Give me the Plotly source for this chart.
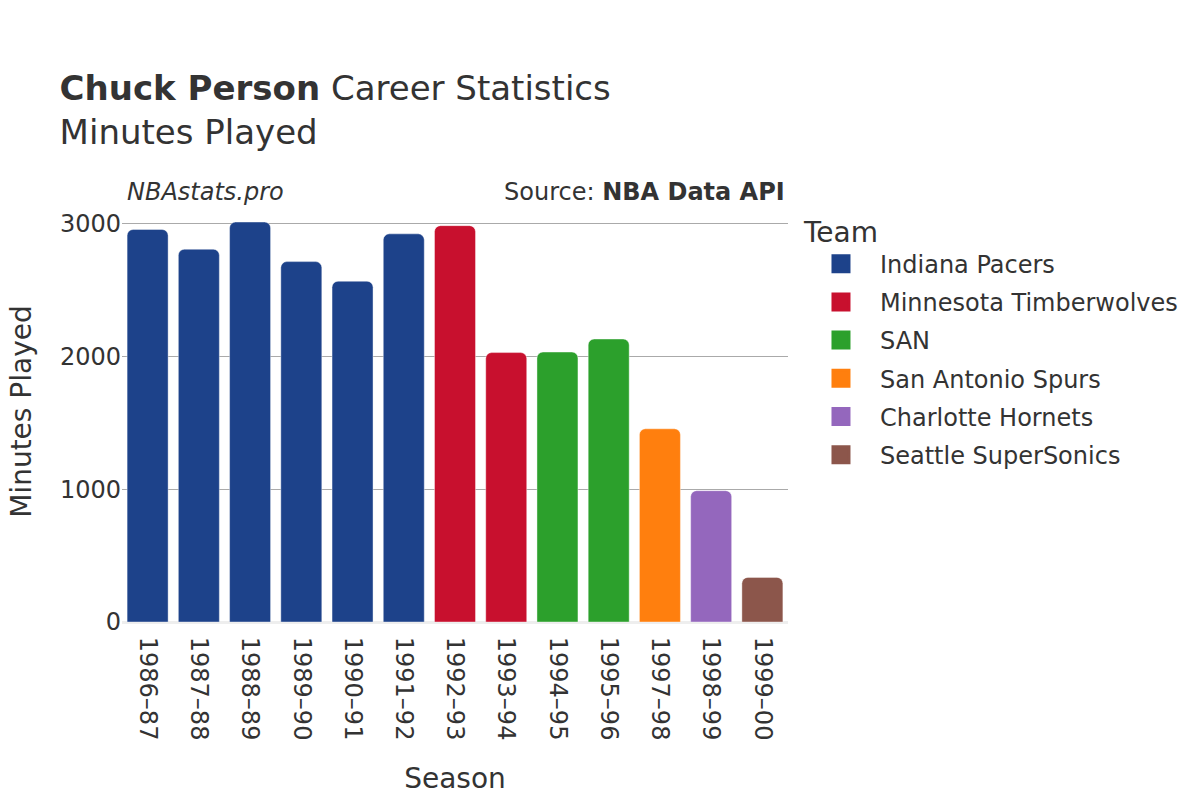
import plotly.graph_objects as go

# data
seasons = ["1986–87", "1987–88", "1988–89", "1989–90", "1990–91", "1991–92", "1992–93",
           "1993–94", "1994–95", "1995–96", "1997–98", "1998–99", "1999–00"]
teams = ["Indiana Pacers", "Indiana Pacers", "Indiana Pacers", "Indiana Pacers", "Indiana Pacers",
         "Indiana Pacers", "Minnesota Timberwolves", "Minnesota Timberwolves", "SAN", "SAN",
         "San Antonio Spurs", "Charlotte Hornets", "Seattle SuperSonics"]
minutes = [2956, 2807, 3012, 2714, 2566, 2923, 2985, 2029, 2033, 2131, 1455, 989, 336]

team_order = ["Indiana Pacers", "Minnesota Timberwolves", "SAN", "San Antonio Spurs",
              "Charlotte Hornets", "Seattle SuperSonics"]
team_colors = {"Indiana Pacers": "#1d428a", "Minnesota Timberwolves": "#c8102e", "SAN": "#2ca02c",
               "San Antonio Spurs": "#ff7f0e", "Charlotte Hornets": "#9467bd",
               "Seattle SuperSonics": "#8c564b"}

fig = go.Figure()
for team in team_order:
    xs = [s for s, t in zip(seasons, teams) if t == team]
    ys = [m for m, t in zip(minutes, teams) if t == team]
    fig.add_trace(go.Bar(x=xs, y=ys, name=team, legendgroup=team, showlegend=False,
                         marker=dict(color=team_colors[team], cornerradius=6,
                                     line=dict(width=1, color="rgba(255,255,255,0.4)"))))
    # bigger legend swatch
    fig.add_trace(go.Scatter(x=[None], y=[None], mode="markers", name=team, legendgroup=team,
                             marker=dict(symbol="square", size=19, color=team_colors[team],
                                         line=dict(width=3, color=team_colors[team]))))

fig.update_layout(
    width=1200, height=800,
    font=dict(family="DejaVu Sans", color="#333333", size=24),
    plot_bgcolor="white", paper_bgcolor="white",
    title=dict(text="<b>Chuck Person</b> Career Statistics<br>Minutes Played",
               x=0.043, xanchor="left", y=0.885, yanchor="top", font=dict(size=34)),
    margin=dict(l=114, r=420, t=193, b=186),
    bargap=0.2,
    legend=dict(title=dict(text="Team", font=dict(size=28)), font=dict(size=24),
                x=1.021, y=0.99, yanchor="top", itemwidth=68, tracegroupgap=4),
    xaxis=dict(title=dict(text="Season", font=dict(size=28), standoff=28), tickangle=90,
               categoryorder="array", categoryarray=seasons, tickfont=dict(size=24),
               ticks="outside", ticklen=9, tickcolor="rgba(0,0,0,0)", automargin=False),
    yaxis=dict(gridcolor="#aaaaaa", zeroline=True, zerolinecolor="#eeeeee", zerolinewidth=3,
               tickfont=dict(size=24), tickvals=[0, 1000, 2000, 3000], automargin=False),
    annotations=[
        dict(text="Minutes Played", xref="paper", yref="paper", x=-0.179, y=0.5,
             textangle=-90, showarrow=False, font=dict(size=28)),
        dict(text="<i>NBAstats.pro</i>", xref="paper", yref="paper", x=0, y=1,
             xanchor="left", yanchor="middle", xshift=3, yshift=9, showarrow=False,
             font=dict(size=24)),
        dict(text="Source: <b>NBA Data API</b>", xref="paper", yref="paper", x=1, y=1,
             xanchor="right", yanchor="middle", xshift=-1, yshift=9, showarrow=False,
             font=dict(size=24)),
    ],
)

fig.write_html("out.html")
